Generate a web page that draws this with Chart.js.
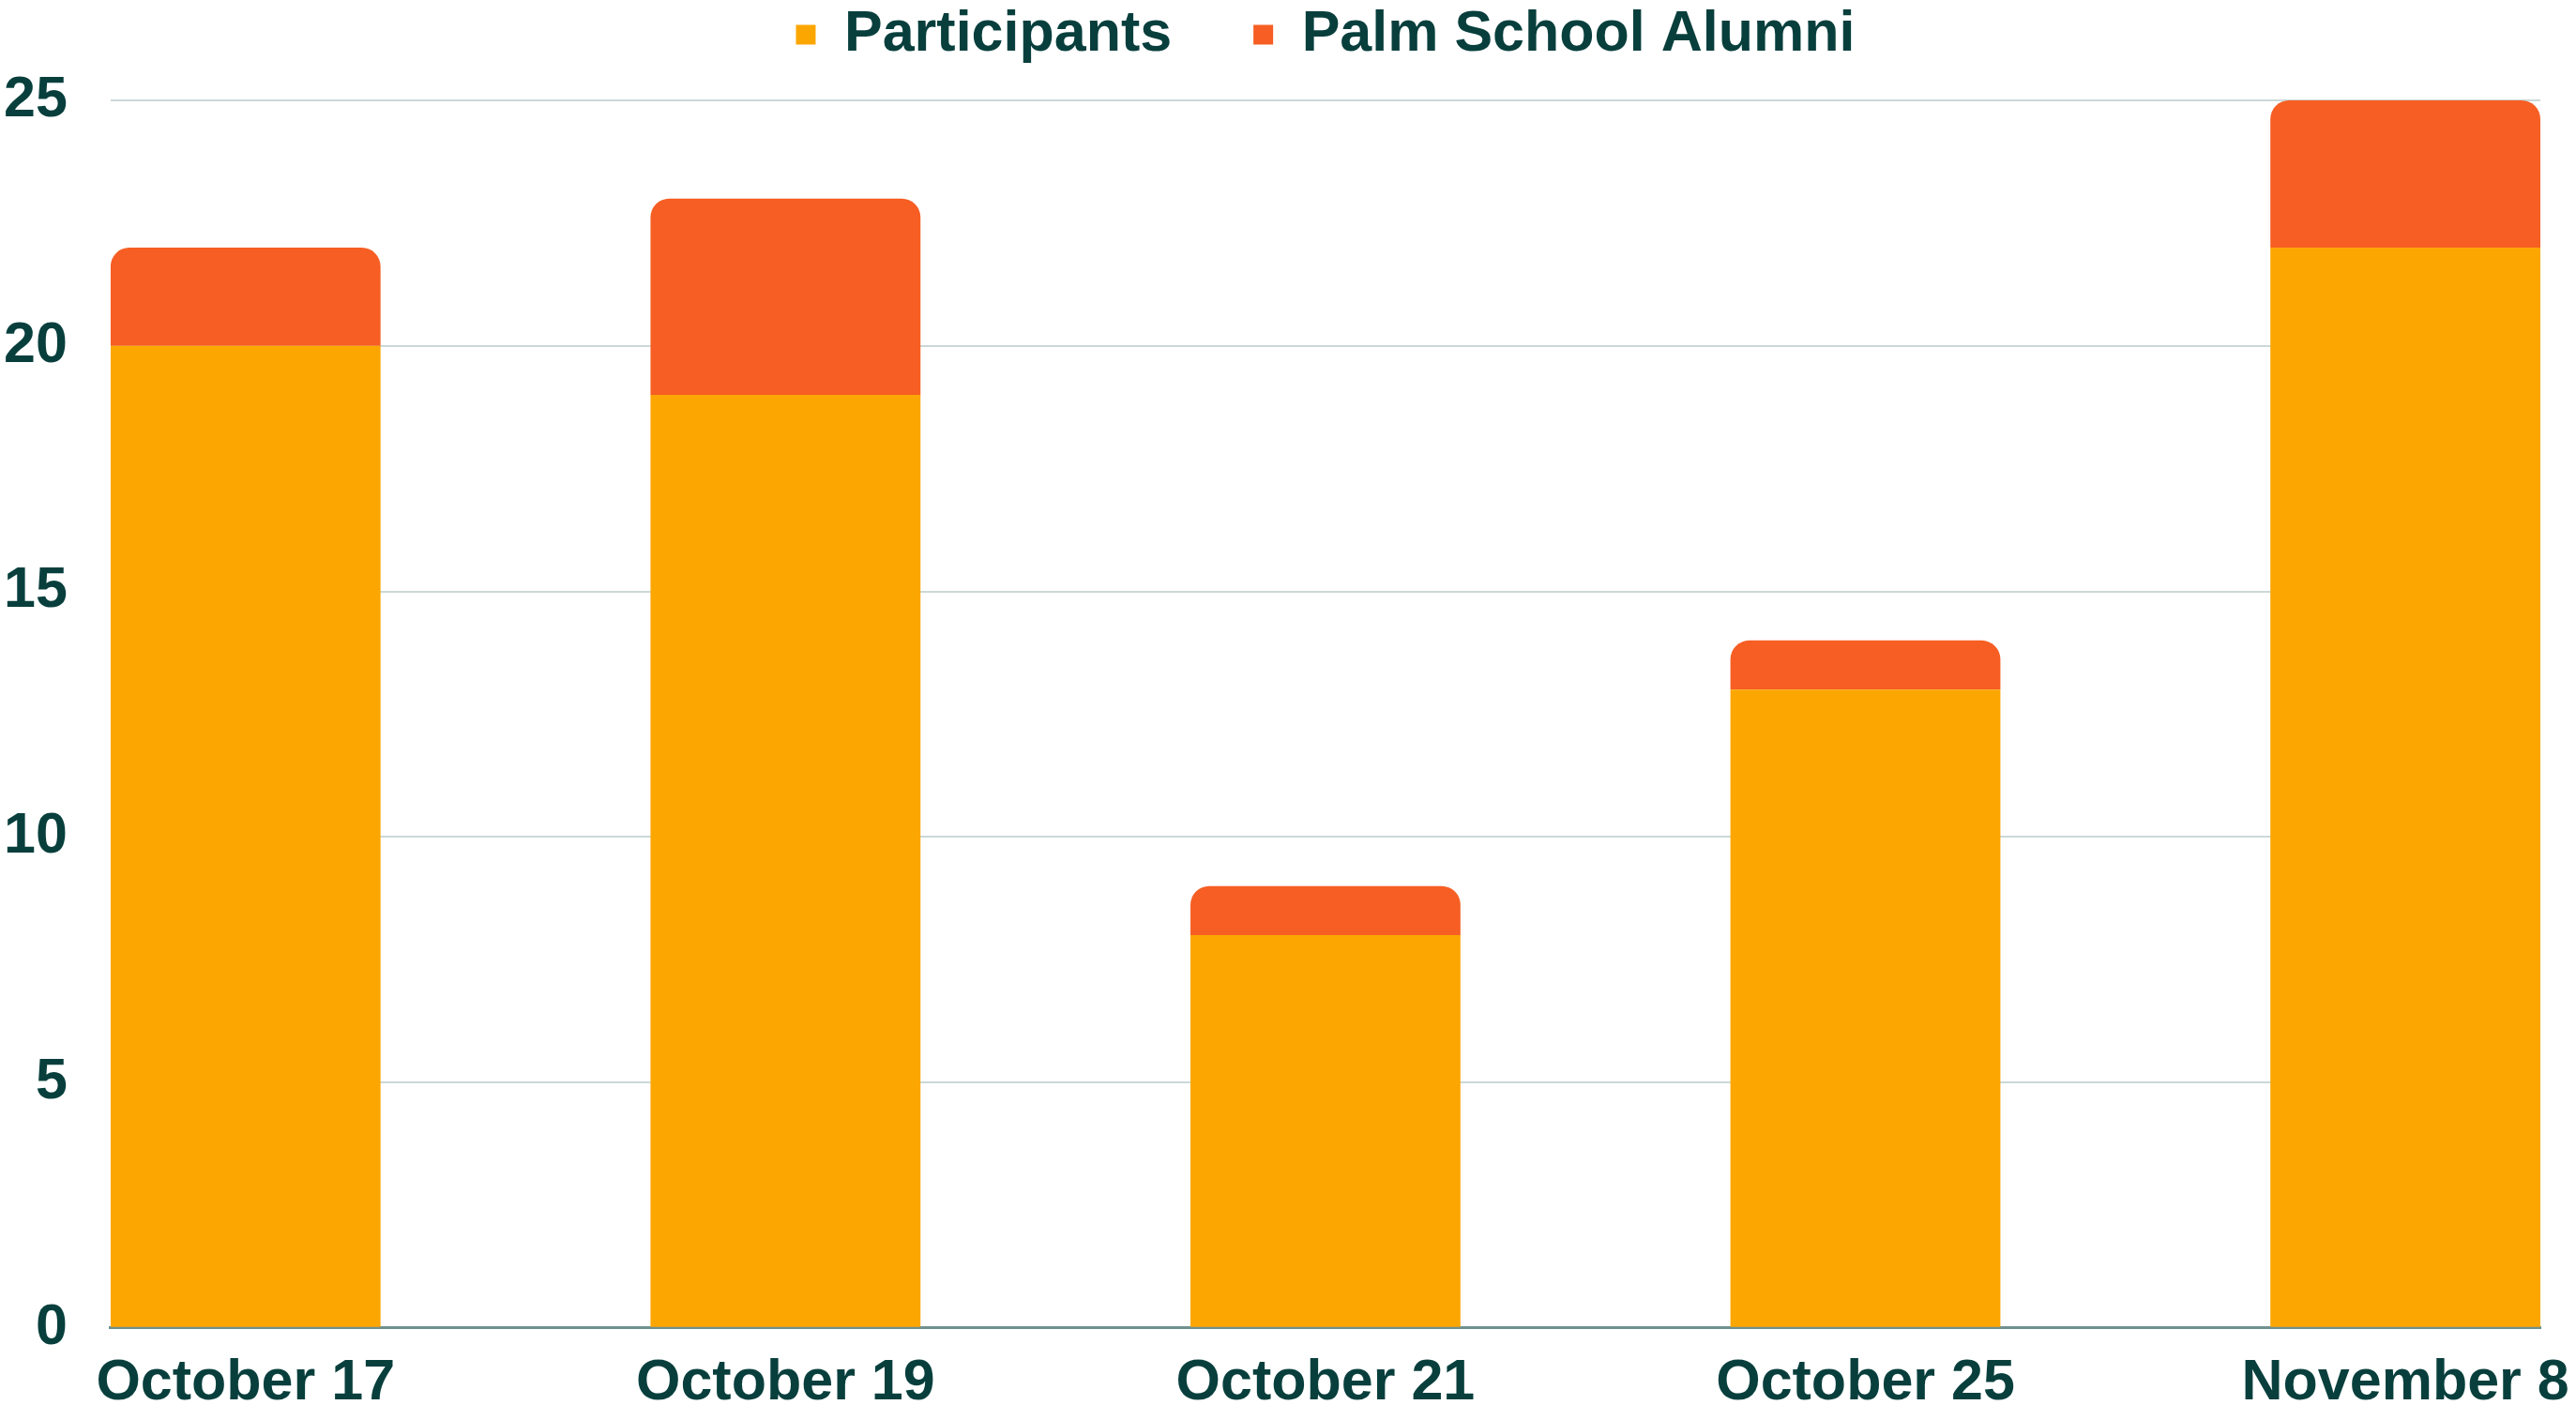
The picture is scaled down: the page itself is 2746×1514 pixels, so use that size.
<!DOCTYPE html>
<html>
<head>
<meta charset="utf-8">
<script src="https://cdn.jsdelivr.net/npm/chart.js@4/dist/chart.umd.min.js"></script>
<style>
  html, body { margin: 0; padding: 0; background: #ffffff; }
  #wrap { width: 2746px; height: 1514px; }
</style>
</head>
<body>
<div id="wrap"><canvas id="myBarChart"></canvas></div>
<script>
var categories = ["October 17", "October 19", "October 21", "October 25", "November 8"];
var participants = [20, 19, 8, 13, 22];
var alumni = [2, 4, 1, 1, 3];
var yTicks = [0, 5, 10, 15, 20, 25];

var textColor = "#083f3d";
var font = { family: "'Liberation Sans', Arial, sans-serif", weight: "bold", size: 61 };

function points(values) {
  return values.map(function (v, i) {
    return { x: i, y: v };
  });
}

var ctx = document.getElementById("myBarChart").getContext("2d");

var myBarChart = new Chart(ctx, {
  type: "bar",
  data: {
    datasets: [
      {
        label: "Participants",
        data: points(participants),
        backgroundColor: "#fca602",
        borderWidth: 0,
        borderRadius: 0,
        categoryPercentage: 1,
        barPercentage: 0.5,
      },
      {
        label: "Palm School Alumni",
        data: points(alumni),
        backgroundColor: "#f65e23",
        borderWidth: 0,
        borderRadius: { topLeft: 20, topRight: 20, bottomLeft: 0, bottomRight: 0 },
        borderSkipped: false,
        categoryPercentage: 1,
        barPercentage: 0.5,
      },
    ],
  },
  options: {
    responsive: true,
    maintainAspectRatio: false,
    animation: false,
    layout: {
      padding: { top: -80.5, left: -42, right: 38, bottom: -21 },
    },
    scales: {
      x: {
        type: "linear",
        stacked: true,
        offset: false,
        min: -0.25,
        max: 4.25,
        grid: { display: false, drawTicks: false },
        border: { display: true, color: "#6f9190", width: 3 },
        afterBuildTicks: function (scale) {
          scale.ticks = categories.map(function (c, i) {
            return { value: i };
          });
        },
        afterFit: function (scale) {
          scale.paddingLeft = 0;
          scale.paddingRight = 0;
        },
        ticks: {
          color: textColor,
          font: font,
          padding: 23,
          maxRotation: 0,
          autoSkip: false,
          callback: function (value) {
            return categories[value];
          },
        },
      },
      y: {
        stacked: true,
        min: yTicks[0],
        max: yTicks[yTicks.length - 1],
        grid: { color: "#cbd8d8", lineWidth: 2, drawTicks: false },
        border: { display: false },
        afterBuildTicks: function (scale) {
          scale.ticks = yTicks.map(function (v) {
            return { value: v };
          });
        },
        ticks: {
          color: textColor,
          font: font,
          padding: 46,
        },
      },
    },
    plugins: {
      legend: {
        position: "top",
        fullSize: false,
        labels: {
          color: textColor,
          font: font,
          boxWidth: 21,
          boxHeight: 21,
          padding: 87,
        },
      },
      // empty title used only as a spacer under the legend
      title: {
        display: true,
        text: " ",
        position: "top",
        weight: 500,
        fullSize: false,
        font: { size: 10 },
        padding: { top: 0, bottom: 17.5 },
      },
      tooltip: { enabled: false },
    },
  },
});
</script>
</body>
</html>
